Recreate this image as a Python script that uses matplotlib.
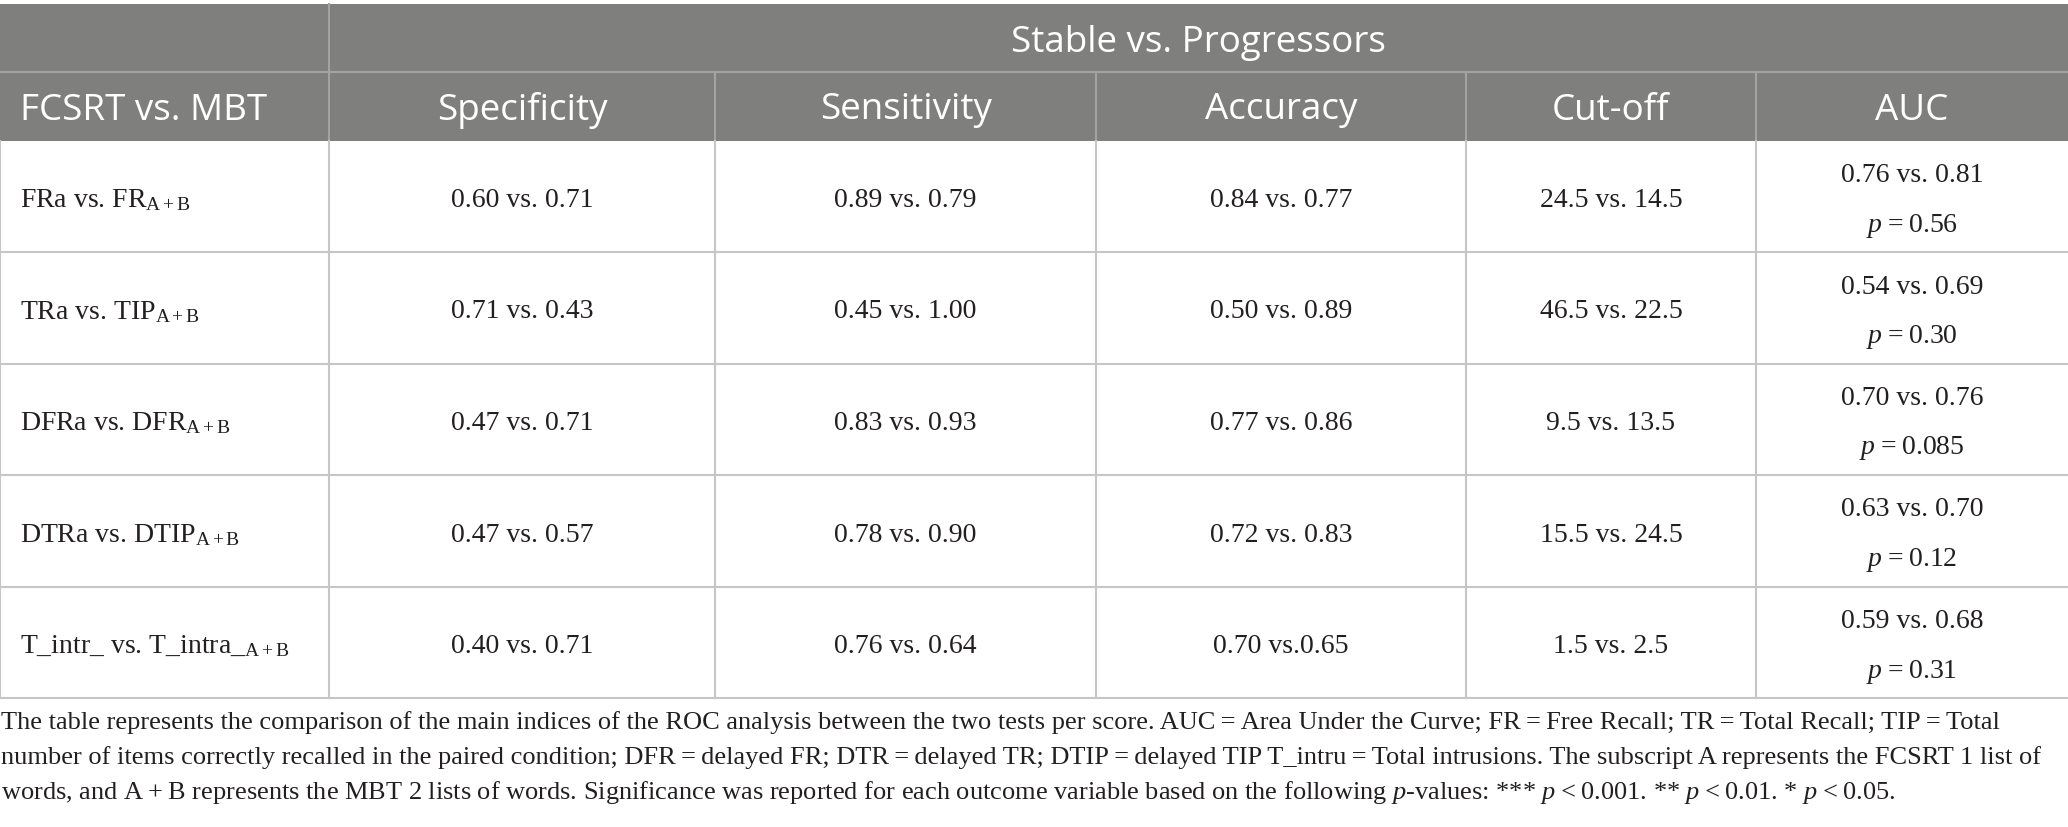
import matplotlib
matplotlib.use('Agg')
import matplotlib.pyplot as plt
from matplotlib.patches import Rectangle

plt.rcParams['mathtext.fontset'] = 'custom'
plt.rcParams['mathtext.rm'] = 'Liberation Serif'
plt.rcParams['mathtext.it'] = 'Liberation Serif:italic'

group_title = 'Stable vs. Progressors'
col_headers = ['FCSRT vs. MBT', 'Specificity', 'Sensitivity', 'Accuracy', 'Cut-off', 'AUC']
row_labels = ['FRa vs. FR$_{\\mathrm{A+B}}$',
              'TRa vs. TIP$_{\\mathrm{A+B}}$',
              'DFRa vs. DFR$_{\\mathrm{A+B}}$',
              'DTRa vs. DTIP$_{\\mathrm{A+B}}$',
              'T_intr_ vs. T_intra_$_{\\mathrm{A+B}}$']
specificity = ['0.60 vs. 0.71', '0.71 vs. 0.43', '0.47 vs. 0.71', '0.47 vs. 0.57', '0.40 vs. 0.71']
sensitivity = ['0.89 vs. 0.79', '0.45 vs. 1.00', '0.83 vs. 0.93', '0.78 vs. 0.90', '0.76 vs. 0.64']
accuracy = ['0.84 vs. 0.77', '0.50 vs. 0.89', '0.77 vs. 0.86', '0.72 vs. 0.83', '0.70 vs.0.65']
cutoff = ['24.5 vs. 14.5', '46.5 vs. 22.5', '9.5 vs. 13.5', '15.5 vs. 24.5', '1.5 vs. 2.5']
auc = ['0.76 vs. 0.81', '0.54 vs. 0.69', '0.70 vs. 0.76', '0.63 vs. 0.70', '0.59 vs. 0.68']
auc_p = ['0.56', '0.30', '0.085', '0.12', '0.31']

caption = [
    'The table represents the comparison of the main indices of the ROC analysis between the two tests per score. '
    'AUC\u2009=\u2009Area Under the Curve; FR\u2009=\u2009Free Recall; TR\u2009=\u2009Total Recall; TIP\u2009=\u2009Total',
    'number of items correctly recalled in the paired condition; DFR\u2009=\u2009delayed FR; DTR\u2009=\u2009delayed TR; '
    'DTIP\u2009=\u2009delayed TIP T_intru\u2009=\u2009Total intrusions. The subscript A represents the FCSRT 1 list of',
    'words, and A\u2009+\u2009B represents the MBT 2 lists of words. Significance was reported for each outcome variable '
    'based on the following $p$-values: *** $p$\u2009<\u20090.001. ** $p$\u2009<\u20090.01. * $p$\u2009<\u20090.05.',
]

# layout in pixels
W, H = 2068, 827
col_x = [0, 329, 715, 1096, 1466, 1756, W]
head_y = [4, 72, 141]
row_y = [141, 252, 364, 475, 587, 698]

head_bg = '#7f807e'
head_line = '#a3a3a3'
grid = '#c6c6c6'
txt = '#231f20'
serif = ['Liberation Serif', 'DejaVu Serif']
sans = ['Open Sans', 'DejaVu Sans']
fs_head = 26.5
fs_body = 20
fs_cap = 19

fig = plt.figure(figsize=(W / 100, H / 100), dpi=100)
ax = fig.add_axes([0, 0, 1, 1])
ax.set_xlim(0, W)
ax.set_ylim(H, 0)
ax.axis('off')

# header
ax.add_patch(Rectangle((0, head_y[0]), W, head_y[2] - head_y[0], color=head_bg, lw=0))
ax.plot([0, W], [head_y[1], head_y[1]], color=head_line, lw=1.5)
ax.plot([col_x[1], col_x[1]], [head_y[0], head_y[2]], color=head_line, lw=1.5)
for x in col_x[2:-1]:
    ax.plot([x, x], [head_y[1], head_y[2]], color=head_line, lw=1.5)

ax.text((col_x[1] + W) / 2, (head_y[0] + head_y[1]) / 2 + 5, group_title, color='white',
        fontsize=fs_head, family=sans, ha='center', va='center')
for i, h in enumerate(col_headers):
    yc = (head_y[1] + head_y[2]) / 2 + 4
    if i == 0:
        ax.text(20, yc, h, color='white', fontsize=fs_head, family=sans, ha='left', va='center')
    else:
        ax.text((col_x[i] + col_x[i + 1]) / 2, yc, h, color='white', fontsize=fs_head,
                family=sans, ha='center', va='center')

# body grid
for y in row_y[1:]:
    ax.plot([0, W], [y, y], color=grid, lw=1.5)
for x in col_x[:-1]:
    ax.plot([x, x], [row_y[0], row_y[-1]], color=grid, lw=1.5)

cols = [specificity, sensitivity, accuracy, cutoff]
for r in range(len(row_labels)):
    yc = (row_y[r] + row_y[r + 1]) / 2 + 4
    ax.text(20, yc, row_labels[r], color=txt, fontsize=fs_body, family=serif, ha='left', va='center')
    for c, vals in enumerate(cols):
        xc = (col_x[c + 1] + col_x[c + 2]) / 2
        ax.text(xc, yc, vals[r], color=txt, fontsize=fs_body, family=serif, ha='center', va='center')
    xc = (col_x[5] + col_x[6]) / 2
    ax.text(xc, yc - 25, auc[r], color=txt, fontsize=fs_body, family=serif, ha='center', va='center')
    ax.text(xc, yc + 25, '$p$\u2009=\u2009' + auc_p[r], color=txt, fontsize=fs_body, family=serif,
            ha='center', va='center')

# caption
for i, line in enumerate(caption):
    ax.text(1, 729 + 35 * i, line, color=txt, fontsize=fs_cap, family=serif, ha='left', va='baseline')

fig.savefig('out.png', dpi=100)
